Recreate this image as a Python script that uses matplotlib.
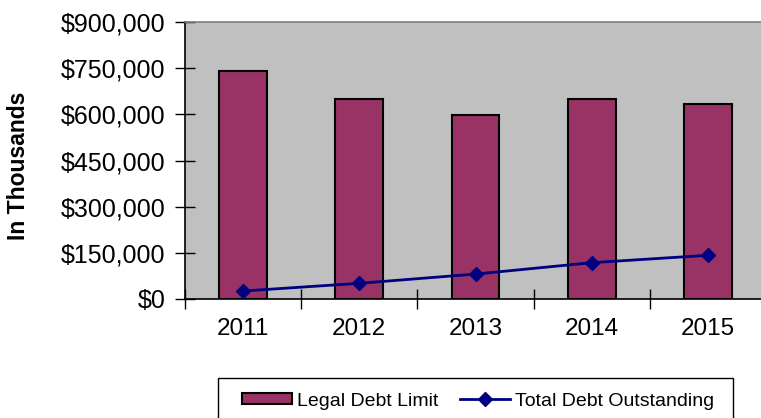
import matplotlib
matplotlib.use("Agg")
import matplotlib.pyplot as plt
from matplotlib.patches import Rectangle
from matplotlib.ticker import FixedLocator

plt.rcParams['font.family'] = ['Liberation Sans', 'DejaVu Sans']

years = ["2011", "2012", "2013", "2014", "2015"]
legal_debt_limit = [740000, 650000, 598000, 650000, 635000]
total_debt_outstanding = [26000, 51000, 81000, 118000, 142000]
y_ticks = [0, 150000, 300000, 450000, 600000, 750000, 900000]
y_tick_labels = ["$0", "$150,000", "$300,000", "$450,000", "$600,000", "$750,000", "$900,000"]

W, H = 761, 418
fig = plt.figure(figsize=(W / 100, H / 100), dpi=100)

# plot area (pixel layout converted to figure fractions)
left, right, top, bottom = 185, 766, 22, 299
ax = fig.add_axes([left / W, 1 - bottom / H, (right - left) / W, (bottom - top) / H])
ax.set_facecolor("#C0C0C0")

x = list(range(len(years)))
bars = ax.bar(x, legal_debt_limit, width=0.41, color="#993366", edgecolor="black",
              linewidth=1.5, zorder=2, label="Legal Debt Limit")
line, = ax.plot(x, total_debt_outstanding, color="#000080", lw=2, marker="D",
                markersize=7.5, zorder=3, label="Total Debt Outstanding")

ax.set_xlim(-0.5, len(years) - 0.5)
ax.set_ylim(0, 900000)
ax.set_yticks(y_ticks)
ax.set_yticklabels(y_tick_labels)
ax.set_xticks(x)
ax.set_xticklabels(years)
ax.xaxis.set_minor_locator(FixedLocator([i - 0.5 for i in range(len(years) + 1)]))

ax.tick_params(axis="x", which="major", length=0, pad=14, labelsize=17.5)
ax.tick_params(axis="x", which="minor", direction="inout", length=14, width=1, color="black")
ax.tick_params(axis="y", direction="inout", length=14, width=1, pad=7,
               labelsize=18, color="black")

for side in ("top", "right"):
    ax.spines[side].set_color("#808080")
    ax.spines[side].set_linewidth(1.2)
for side in ("left", "bottom"):
    ax.spines[side].set_color("black")
    ax.spines[side].set_linewidth(1.2)

fig.text(19 / W, 1 - 166 / H, "In Thousands", rotation=90, ha="center", va="center",
         fontsize=16.5, fontweight="bold")

# legend box
fig.add_artist(Rectangle((218 / W, 1 - 432 / H), (733 - 218) / W, (432 - 378) / H,
                         transform=fig.transFigure, facecolor="white",
                         edgecolor="black", linewidth=1))
fig.legend([bars, line], ["Legal Debt Limit", "Total Debt Outstanding"], loc="center",
           bbox_to_anchor=(478 / W, 1 - 401 / H),
           ncol=2, frameon=False, fontsize=14, handlelength=2.6, handleheight=0.48,
           handletextpad=0.25, columnspacing=1.1, borderpad=0)

fig.savefig("out.png", dpi=100)
